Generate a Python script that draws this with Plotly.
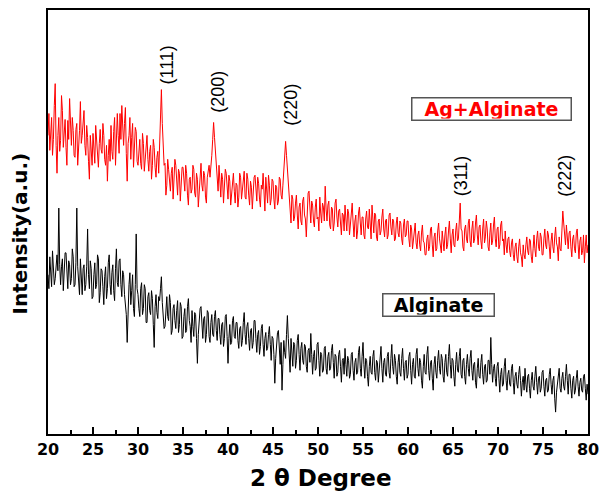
import plotly.graph_objects as go

# 2-theta grid (degrees), 0.1 deg step from 20 to 80
two_theta = [round(20 + 0.1 * i, 1) for i in range(601)]

# Ag+Alginate intensity (a.u.), 10 values per degree
ag_alginate = [
    300, 322, 285, 298, 318, 280, 296, 330, 352, 290,
    262, 300, 318, 284, 295, 340, 325, 288, 300, 316,
    288, 270, 315, 296, 337, 300, 290, 318, 305, 280,
    278, 306, 312, 270, 284, 305, 334, 292, 300, 318,
    325, 290, 280, 310, 298, 274, 256, 300, 288, 270,
    302, 284, 272, 310, 296, 278, 268, 292, 306, 286,
    282, 312, 300, 276, 270, 290, 254, 280, 296, 274,
    310, 284, 276, 304, 318, 270, 290, 322, 300, 282,
    322, 296, 330, 306, 290, 312, 328, 282, 254, 292,
    300, 318, 276, 298, 312, 268, 286, 308, 304, 274,
    270, 288, 296, 272, 266, 302, 292, 264, 278, 296,
    300, 276, 264, 284, 290, 256, 270, 296, 288, 268,
    258, 278, 284, 262, 300, 320, 346, 312, 290, 270,
    272, 240, 250, 276, 266, 252, 244, 262, 268, 236,
    252, 276, 270, 248, 240, 266, 262, 234, 250, 268,
    268, 250, 244, 270, 262, 240, 230, 256, 258, 242,
    246, 270, 266, 242, 238, 262, 256, 228, 240, 262,
    272, 250, 244, 264, 260, 238, 232, 258, 266, 270,
    258, 276, 280, 296, 313, 298, 284, 270, 262, 244,
    270, 252, 238, 262, 256, 232, 244, 266, 262, 240,
    236, 260, 254, 230, 240, 256, 262, 244, 232, 252,
    250, 228, 238, 262, 258, 236, 244, 256, 264, 238,
    236, 262, 256, 240, 230, 254, 248, 226, 240, 258,
    260, 240, 234, 258, 252, 236, 228, 250, 246, 262,
    238, 224, 258, 244, 232, 260, 250, 230, 236, 256,
    254, 236, 226, 250, 248, 230, 234, 258, 256, 240,
    236, 250, 262, 278, 294, 280, 266, 248, 240, 224,
    212, 240, 236, 214, 218, 232, 240, 220, 206, 228,
    232, 214, 210, 234, 238, 220, 216, 198, 230, 242,
    244, 226, 212, 234, 230, 214, 208, 228, 236, 216,
    218, 204, 238, 222, 212, 232, 228, 214, 249, 226,
    214, 230, 234, 210, 206, 228, 226, 204, 212, 232,
    236, 218, 208, 224, 226, 212, 200, 222, 220, 204,
    230, 216, 204, 226, 222, 200, 210, 226, 232, 212,
    198, 214, 220, 196, 204, 222, 228, 212, 200, 218,
    218, 200, 196, 216, 224, 208, 206, 226, 214, 196,
    230, 212, 202, 222, 220, 198, 194, 214, 216, 200,
    204, 218, 226, 206, 198, 214, 216, 196, 200, 220,
    222, 208, 200, 216, 214, 194, 196, 212, 218, 202,
    198, 214, 212, 196, 190, 210, 216, 198, 200, 214,
    214, 196, 188, 210, 206, 186, 194, 208, 212, 192,
    186, 200, 204, 190, 184, 202, 210, 194, 192, 180,
    180, 196, 200, 184, 188, 206, 208, 190, 178, 198,
    202, 184, 186, 204, 212, 196, 190, 182, 204, 194,
    184, 200, 208, 186, 190, 204, 214, 196, 182, 200,
    206, 190, 188, 204, 212, 194, 196, 214, 232, 206,
    204, 188, 184, 206, 210, 196, 192, 212, 216, 194,
    188, 206, 214, 192, 196, 212, 220, 200, 190, 208,
    210, 194, 186, 206, 216, 192, 198, 214, 206, 188,
    184, 202, 212, 190, 194, 210, 218, 196, 188, 206,
    208, 186, 190, 210, 214, 194, 196, 180, 204, 190,
    182, 196, 198, 184, 178, 192, 196, 180, 174, 188,
    192, 178, 172, 188, 196, 182, 178, 168, 190, 180,
    176, 190, 198, 184, 180, 196, 194, 178, 172, 186,
    200, 186, 178, 196, 204, 188, 184, 202, 198, 180,
    180, 196, 206, 190, 186, 204, 200, 188, 176, 194,
    202, 188, 182, 198, 208, 192, 188, 174, 198, 186,
    184, 204, 224, 212, 200, 190, 210, 196, 186, 202,
    204, 188, 178, 196, 200, 186, 182, 202, 206, 190,
    176, 194, 198, 180, 184, 200, 172, 188, 200, 182,
    190,
]

# Alginate intensity (a.u.), 10 values per degree
alginate = [
    160, 146, 178, 162, 148, 184, 172, 150, 156, 176,
    180, 164, 227, 170, 150, 168, 176, 144, 158, 182,
    182, 160, 146, 174, 170, 150, 156, 186, 178, 148,
    150, 172, 227, 168, 158, 140, 176, 160, 140, 166,
    170, 144, 150, 168, 206, 160, 146, 174, 166, 136,
    138, 160, 172, 146, 150, 180, 176, 132, 142, 166,
    164, 148, 130, 158, 168, 136, 146, 172, 180, 150,
    140, 162, 170, 144, 134, 166, 186, 152, 148, 174,
    176, 150, 138, 164, 160, 140, 128, 120, 92, 132,
    150, 162, 130, 144, 160, 126, 118, 150, 201, 146,
    140, 126, 118, 146, 152, 120, 126, 150, 146, 112,
    112, 138, 142, 124, 120, 144, 136, 110, 87, 128,
    140, 122, 116, 138, 134, 146, 158, 132, 120, 106,
    108, 130, 138, 118, 114, 140, 132, 100, 104, 126,
    130, 114, 106, 124, 134, 102, 110, 132, 128, 96,
    98, 118, 126, 102, 104, 128, 136, 114, 108, 92,
    124, 108, 98, 122, 120, 96, 71, 100, 114, 126,
    128, 106, 96, 116, 118, 92, 100, 124, 122, 98,
    92, 112, 120, 100, 98, 118, 124, 104, 94, 116,
    116, 100, 90, 110, 112, 88, 96, 118, 120, 98,
    71, 96, 110, 90, 92, 114, 118, 98, 96, 112,
    112, 94, 86, 106, 108, 88, 94, 112, 122, 100,
    90, 108, 112, 96, 84, 104, 106, 86, 92, 114,
    114, 96, 82, 100, 104, 80, 88, 106, 110, 90,
    78, 96, 102, 84, 86, 100, 108, 90, 74, 98,
    96, 80, 51, 76, 90, 102, 104, 84, 70, 92,
    44, 70, 94, 82, 76, 100, 119, 96, 80, 62,
    96, 78, 68, 92, 90, 66, 74, 94, 100, 80,
    64, 86, 92, 74, 70, 90, 88, 68, 62, 84,
    86, 72, 101, 80, 60, 78, 84, 64, 66, 90,
    92, 74, 58, 82, 80, 62, 64, 86, 88, 66,
    60, 78, 82, 64, 66, 84, 90, 72, 56, 80,
    78, 58, 62, 80, 84, 68, 52, 74, 76, 60,
    86, 70, 58, 78, 74, 56, 60, 80, 82, 64,
    54, 72, 76, 60, 62, 82, 88, 66, 58, 78,
    92, 70, 56, 76, 74, 58, 48, 68, 78, 62,
    60, 78, 84, 62, 54, 74, 72, 52, 62, 80,
    88, 66, 52, 72, 76, 60, 58, 78, 82, 62,
    56, 76, 90, 68, 60, 80, 74, 58, 50, 72,
    80, 62, 58, 76, 86, 66, 54, 72, 74, 56,
    60, 78, 82, 64, 50, 70, 76, 58, 56, 80,
    86, 66, 58, 76, 72, 54, 46, 68, 80, 62,
    60, 80, 88, 64, 54, 72, 74, 56, 44, 70,
    78, 62, 56, 74, 84, 66, 60, 80, 76, 58,
    52, 72, 80, 62, 58, 78, 90, 70, 56, 76,
    74, 58, 48, 70, 82, 64, 62, 78, 86, 60,
    56, 74, 76, 58, 50, 70, 80, 66, 58, 76,
    84, 64, 54, 70, 72, 52, 46, 66, 76, 58,
    56, 72, 80, 60, 50, 68, 70, 52, 54, 74,
    74, 60, 97, 70, 52, 66, 70, 56, 48, 68,
    72, 56, 42, 60, 66, 48, 50, 68, 76, 54,
    44, 60, 64, 50, 48, 66, 70, 52, 40, 58,
    62, 50, 46, 60, 68, 54, 38, 52, 58, 44,
    66, 50, 42, 58, 60, 46, 36, 54, 62, 48,
    44, 58, 68, 52, 40, 56, 58, 42, 46, 62,
    64, 48, 38, 54, 56, 42, 44, 60, 66, 50,
    40, 54, 58, 36, 22, 42, 52, 60, 66, 46,
    42, 56, 62, 48, 44, 58, 70, 54, 40, 60,
    60, 46, 36, 54, 58, 40, 44, 56, 64, 48,
    38, 52, 56, 44, 42, 58, 60, 46, 34, 50,
    40,
]

x_ticks = [20, 25, 30, 35, 40, 45, 50, 55, 60, 65, 70, 75, 80]

peak_labels = ["(111)", "(200)", "(220)", "(311)", "(222)"]
peak_label_x = [33.2, 38.9, 46.9, 65.9, 77.5]
peak_label_y = [371, 344, 331, 259, 259]

FONT = "Arial, 'Liberation Sans', sans-serif"
BOLD = "'DejaVu Sans', Verdana, sans-serif"

fig = go.Figure()
fig.add_trace(go.Scatter(x=two_theta, y=alginate, mode="lines",
                         line=dict(color="#000000", width=1), name="Alginate"))
fig.add_trace(go.Scatter(x=two_theta, y=ag_alginate, mode="lines",
                         line=dict(color="#ff0000", width=1), name="Ag+Alginate"))

annotations = []
for t, px, py in zip(peak_labels, peak_label_x, peak_label_y):
    annotations.append(dict(x=px, y=py, xref="x", yref="y", text=t, showarrow=False,
                            textangle=-90, font=dict(family=FONT, size=18, color="#000000")))

annotations.append(dict(x=69.3, y=327, xref="x", yref="y", text="<b>Ag+Alginate</b>",
                        showarrow=False, width=156, height=19,
                        bordercolor="#555555", borderwidth=1.5, borderpad=1,
                        font=dict(family=BOLD, size=19, color="#ff0000")))
annotations.append(dict(x=63.4, y=129.5, xref="x", yref="y", text="<b>Alginate</b>",
                        showarrow=False, width=108, height=19,
                        bordercolor="#555555", borderwidth=1.5, borderpad=1,
                        font=dict(family=BOLD, size=19, color="#000000")))

annotations.append(dict(x=-0.051, y=0.474, xref="paper", yref="paper",
                        text="<b>Intensity(a.u.)</b>", showarrow=False, textangle=-90,
                        xanchor="center", yanchor="middle",
                        font=dict(family=BOLD, size=20, color="#000000")))
annotations.append(dict(x=0.5055, y=-0.103, xref="paper", yref="paper",
                        text="<b>2 θ Degree</b>", showarrow=False,
                        xanchor="center", yanchor="middle",
                        font=dict(family=BOLD, size=23, color="#000000")))

fig.update_layout(
    width=607, height=493,
    margin=dict(l=48, r=14, t=8, b=59),
    paper_bgcolor="white", plot_bgcolor="white",
    showlegend=False,
    annotations=annotations,
    xaxis=dict(range=[20, 80], tickvals=x_ticks, ticktext=[str(v) for v in x_ticks],
               ticks="inside", ticklen=7, tickwidth=2, tickcolor="#000000",
               minor=dict(tickvals=[22.5 + 5 * i for i in range(12)], ticks="inside",
                          ticklen=4, tickwidth=2, tickcolor="#000000"),
               showline=True, linecolor="#000000", linewidth=2, mirror=True,
               showgrid=False, zeroline=False,
               tickfont=dict(family=BOLD, size=16, color="#000000", weight="bold")),
    yaxis=dict(range=[0, 426], showticklabels=False, ticks="",
               showline=True, linecolor="#000000", linewidth=2, mirror=True,
               showgrid=False, zeroline=False),
)

fig.write_html("out.html", config={"displayModeBar": False},
               post_script="document.body.style.margin='0';document.body.style.overflow='hidden';")
